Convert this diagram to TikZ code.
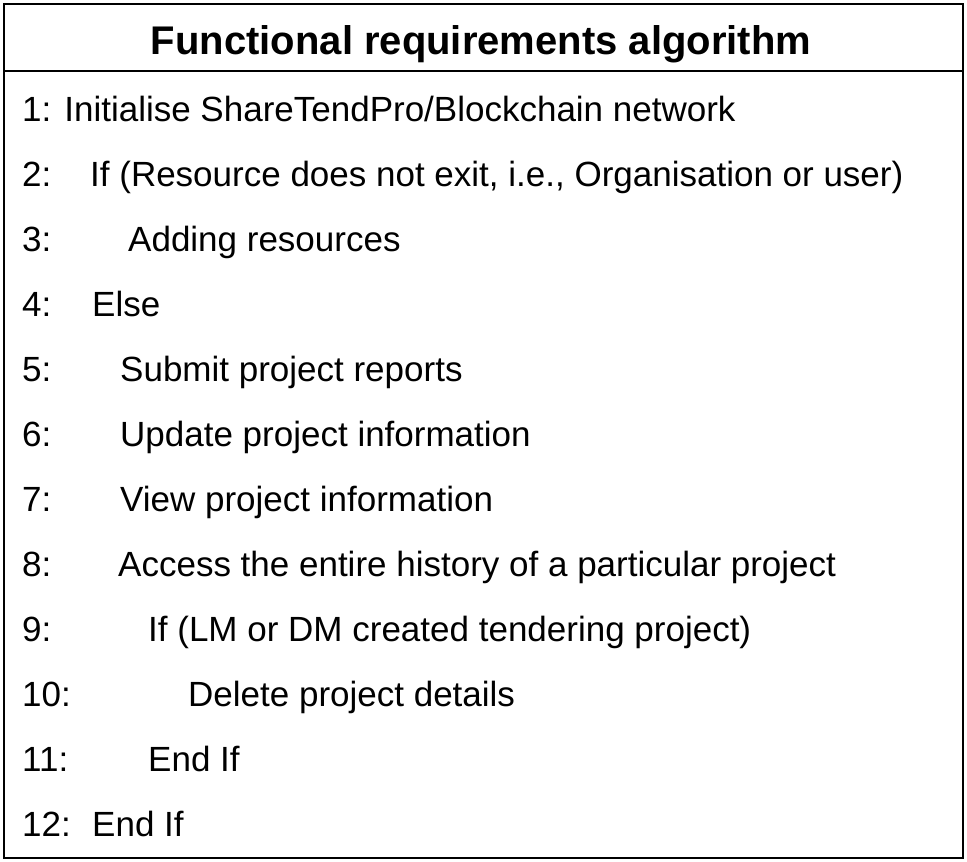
\documentclass[tikz,border=0pt]{standalone}
\usepackage{fontspec}
\setmainfont{Liberation Sans}
\begin{document}
\begin{tikzpicture}[x=1bp,y=-1bp,
  ln/.style={anchor=base west,inner sep=0pt,font=\fontsize{35bp}{38bp}\selectfont},
  ttl/.style={anchor=base,inner sep=0pt,font=\bfseries\fontsize{40bp}{44bp}\selectfont}]
\useasboundingbox (0,0) rectangle (967,862);
\draw[line width=2.5bp] (4,4) rectangle (963,858);
\draw[line width=2.5bp] (4,71) -- (963,71);
\node[ttl] (t) at (481,54) {Functional requirements algorithm};
\foreach \n/\x/\t [count=\i] in {1: /22/{1: Initialise ShareTendPro/Blockchain network},
 2:/90/{If (Resource does not exit, i.e., Organisation or user)},
 3:/128/{Adding resources},
 4:/92/{Else},
 5:/120/{Submit project reports},
 6:/120/{Update project information},
 7:/120/{View project information},
 8:/118/{Access the entire history of a particular project},
 9:/148/{If (LM or DM created tendering project)},
 10:/188/{Delete project details},
 11:/148/{End If},
 12:/92/{End If}}{
  \pgfmathsetmacro\yy{121+65*(\i-1)}
  \ifnum\i>1 \node[ln] (n\i) at (22,\yy) {\n}; \fi
  \node[ln] (l\i) at (\x,\yy) {\t};
}
\end{tikzpicture}
\end{document}
